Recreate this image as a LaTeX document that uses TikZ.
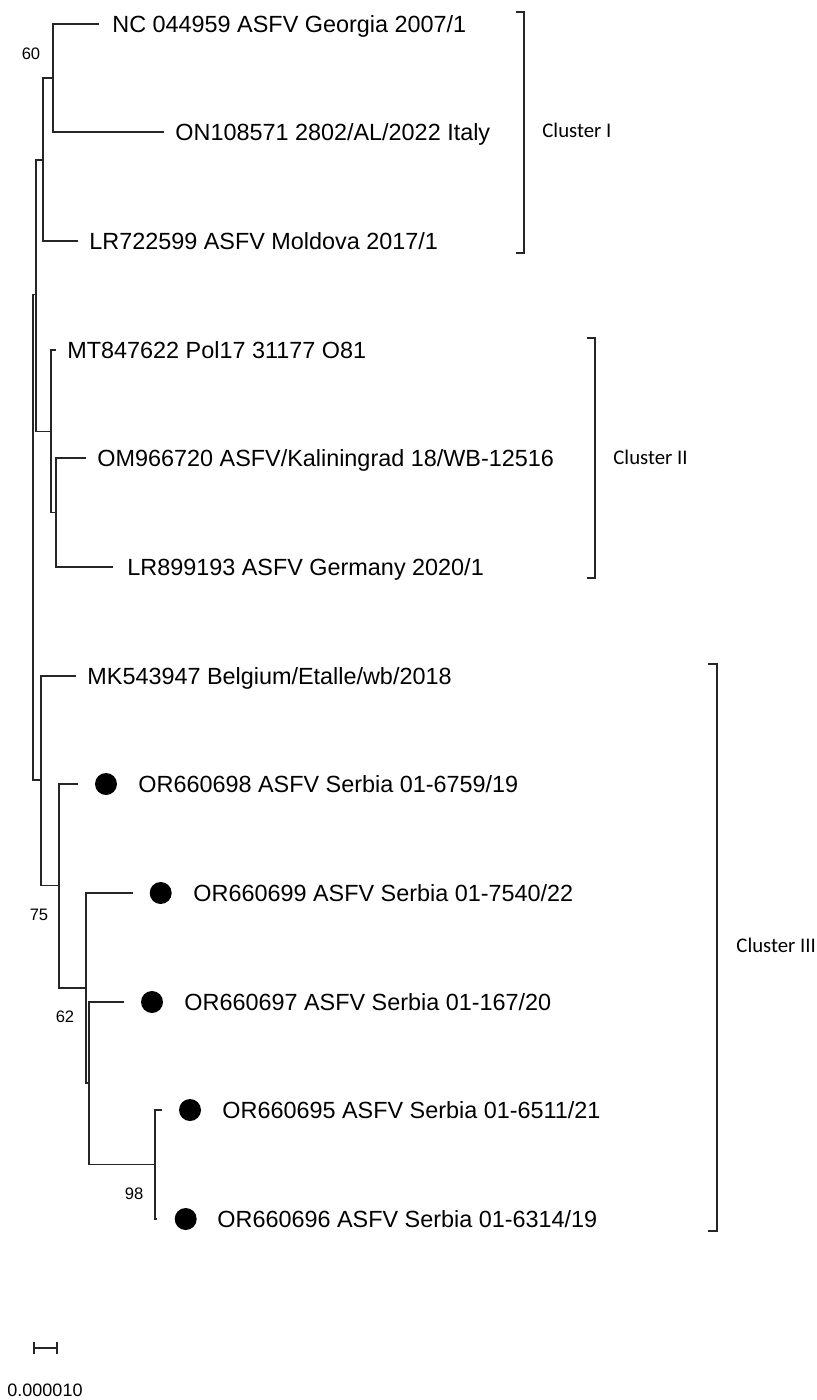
\documentclass[tikz,border=0pt]{standalone}
\usepackage{fontspec}
\setmainfont{Liberation Sans}
\newfontfamily\clusterfont{Carlito}
\usepackage{tikz}

\begin{document}
\begin{tikzpicture}[
    x=0.5pt, y=-0.5pt,
    branch/.style={line width=0.85pt, draw=black!85},
    leaf/.style={anchor=base west, inner sep=0pt, yshift=-4.2pt, font=\fontsize{11.7}{14}\selectfont},
    tipdot/.style={circle, fill=black, inner sep=0pt, minimum size=11pt},
    boot/.style={inner sep=0pt, font=\fontsize{8.3}{10}\selectfont},
    clus/.style={anchor=base west, inner sep=0pt, yshift=-3.35pt, font=\clusterfont\fontsize{10.4}{12}\selectfont}
]
    \useasboundingbox (0,0) rectangle (817,1400);

    % internal nodes
    \coordinate (root) at (32.7,536.5);
    \coordinate (nD) at (36,294.5);
    \coordinate (nB) at (42.7,160);
    \coordinate (nA) at (52.7,78);
    \coordinate (nC) at (51,431.5);
    \coordinate (nE) at (55.7,512.5);
    \coordinate (nF) at (41,780);
    \coordinate (nG) at (59.3,885.5);
    \coordinate (nH) at (86,988);
    \coordinate (nI) at (89,1083);
    \coordinate (nJ) at (155,1164.5);

    % branch tips
    \coordinate (tNC) at (99,24);
    \coordinate (tON) at (164,132);
    \coordinate (tLRm) at (78,241);
    \coordinate (tMT) at (56,350);
    \coordinate (tOM) at (86,458);
    \coordinate (tLRg) at (113,567);
    \coordinate (tMK) at (76,676);
    \coordinate (tS98) at (78,784);
    \coordinate (tS99) at (132.7,893);
    \coordinate (tS97) at (124,1002);
    \coordinate (tS95) at (162,1110);
    \coordinate (tS96) at (157,1219);

    \draw[branch] (root) |- (nD);
    \draw[branch] (root) |- (nF);
    \draw[branch] (nD) |- (nB);
    \draw[branch] (nD) |- (nC);
    \draw[branch] (nB) |- (nA);
    \draw[branch] (nB) |- (tLRm);
    \draw[branch] (nA) |- (tNC);
    \draw[branch] (nA) |- (tON);
    \draw[branch] (nC) |- (tMT);
    \draw[branch] (nC) |- (nE);
    \draw[branch] (nE) |- (tOM);
    \draw[branch] (nE) |- (tLRg);
    \draw[branch] (nF) |- (tMK);
    \draw[branch] (nF) |- (nG);
    \draw[branch] (nG) |- (tS98);
    \draw[branch] (nG) |- (nH);
    \draw[branch] (nH) |- (tS99);
    \draw[branch] (nH) |- (nI);
    \draw[branch] (nI) |- (tS97);
    \draw[branch] (nI) |- (nJ);
    \draw[branch] (nJ) |- (tS95);
    \draw[branch] (nJ) |- (tS96);

    % taxa
    \node[leaf] (lNC) at (112,24) {NC 044959 ASFV Georgia 2007/1};
    \node[leaf] (lON) at (175,132) {ON108571 2802/AL/2022 Italy};
    \node[leaf] (lLRm) at (89,241) {LR722599 ASFV Moldova 2017/1};
    \node[leaf] (lMT) at (67,350) {MT847622 Pol17 31177 O81};
    \node[leaf] (lOM) at (97,458) {OM966720 ASFV/Kaliningrad 18/WB-12516};
    \node[leaf] (lLRg) at (127,567) {LR899193 ASFV Germany 2020/1};
    \node[leaf] (lMK) at (87,676) {MK543947 Belgium/Etalle/wb/2018};
    \node[leaf] (lS98) at (138,784) {OR660698 ASFV Serbia 01-6759/19};
    \node[leaf] (lS99) at (193,893) {OR660699 ASFV Serbia 01-7540/22};
    \node[leaf] (lS97) at (184,1002) {OR660697 ASFV Serbia 01-167/20};
    \node[leaf] (lS95) at (222,1110) {OR660695 ASFV Serbia 01-6511/21};
    \node[leaf] (lS96) at (217,1219) {OR660696 ASFV Serbia 01-6314/19};

    % Serbian isolates
    \node[tipdot] (d98) at (106,784) {};
    \node[tipdot] (d99) at (160.7,893) {};
    \node[tipdot] (d97) at (152,1002) {};
    \node[tipdot] (d95) at (190,1110) {};
    \node[tipdot] (d96) at (185.7,1219) {};

    % bootstrap values
    \node[boot] (b60) at (31,53.5) {60};
    \node[boot] (b75) at (39,915) {75};
    \node[boot] (b62) at (65,1016.5) {62};
    \node[boot] (b98) at (134,1194) {98};

    % clusters
    \draw[branch] (516,12) -| (524,253) -- (516,253);
    \node[clus] (cI) at (542,131) {Cluster I};
    \draw[branch] (587,338) -| (595,578) -- (587,578);
    \node[clus] (cII) at (613,457.5) {Cluster II};
    \draw[branch] (708,664) -| (717,1231) -- (708,1231);
    \node[clus] (cIII) at (736,946) {Cluster III};

    % scale bar
    \draw[branch] (34,1342) -- (34,1354) (34,1348) -- (56.7,1348) (56.7,1342) -- (56.7,1354);
    \node[inner sep=0pt, font=\fontsize{9}{11}\selectfont] (sc) at (45,1390) {0.000010};
\end{tikzpicture}
\end{document}
